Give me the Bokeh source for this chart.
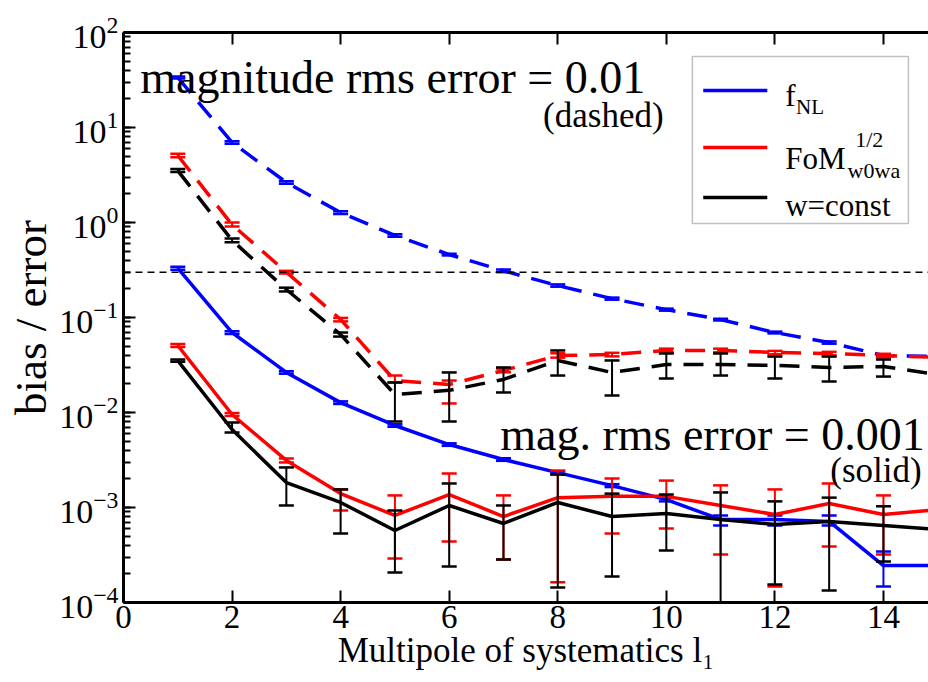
from bokeh.plotting import figure
from bokeh.models import (Range1d, LinearAxis, SingleIntervalTicker, Span, Label,
                          BoxAnnotation, CustomJSTickFormatter, ColumnDataSource)
from bokeh.embed import file_html
from bokeh.resources import INLINE

# ---------------- data ----------------
multipole = [1, 2, 3, 4, 5, 6, 7, 8, 9, 10, 11, 12, 13, 14, 15]

# magnitude rms error = 0.01 (dashed)
fnl_dashed = [33.6, 6.95, 2.64, 1.27, 0.73, 0.46, 0.31, 0.217, 0.158, 0.121, 0.095, 0.0695, 0.0546, 0.0398, 0.0388]
fnl_dashed_hi = [34.5, 7.15, 2.72, 1.31, 0.75, 0.47, 0.32, 0.223, 0.162, 0.124, 0.097, 0.071, 0.056, 0.041, 0.040]
fnl_dashed_lo = [32.7, 6.75, 2.56, 1.23, 0.71, 0.45, 0.30, 0.211, 0.154, 0.118, 0.093, 0.068, 0.053, 0.0386, 0.0376]

fom_dashed = [5.07, 0.95, 0.30, 0.0953, 0.0217, 0.0197, 0.0277, 0.0398, 0.0408, 0.045, 0.045, 0.0428, 0.0418, 0.0398, 0.038]
fom_dashed_hi = [5.3, 1.0, 0.31, 0.099, 0.0245, 0.0217, 0.0290, 0.0420, 0.0425, 0.047, 0.047, 0.0445, 0.0435, 0.0415, 0.0395]
fom_dashed_lo = [4.85, 0.91, 0.29, 0.091, 0.0207, 0.01245, 0.0265, 0.0378, 0.039, 0.043, 0.043, 0.041, 0.040, 0.038, 0.0365]

wconst_dashed = [3.52, 0.65, 0.197, 0.0662, 0.01545, 0.0171, 0.0223, 0.0353, 0.0264, 0.032, 0.032, 0.0313, 0.0298, 0.0305, 0.0251]
wconst_dashed_hi = [3.65, 0.68, 0.206, 0.0695, 0.0207, 0.0264, 0.0298, 0.045, 0.0353, 0.0418, 0.0418, 0.0388, 0.0388, 0.0361, 0.030]
wconst_dashed_lo = [3.40, 0.62, 0.188, 0.0630, 0.00804, 0.00804, 0.01625, 0.0245, 0.0151, 0.0228, 0.0245, 0.0228, 0.0212, 0.0239, 0.020]

# magnitude rms error = 0.001 (solid)
fnl_solid = [0.330, 0.0695, 0.0264, 0.0127, 0.0073, 0.0046, 0.0032, 0.00233, 0.0017, 0.00121, 0.000748, 0.000748, 0.000713, 0.000245, 0.000245]
fnl_solid_hi = [0.342, 0.0718, 0.0272, 0.0131, 0.00752, 0.00474, 0.0033, 0.0024, 0.00176, 0.00126, 0.000824, 0.000824, 0.000824, 0.000344, 0.00034]
fnl_solid_lo = [0.318, 0.0672, 0.0256, 0.0123, 0.00708, 0.00446, 0.0031, 0.00226, 0.00164, 0.00116, 0.000647, 0.000647, 0.000647, 0.000147, 0.00015]

fom_solid = [0.0507, 0.00953, 0.00313, 0.0014, 0.000824, 0.00137, 0.000803, 0.00127, 0.00131, 0.00131, 0.00105, 0.000844, 0.0011, 0.000844, 0.000953]
fom_solid_hi = [0.0525, 0.0099, 0.00328, 0.00155, 0.00134, 0.00228, 0.00134, 0.00245, 0.00202, 0.00192, 0.00171, 0.00155, 0.00179, 0.00134, 0.0015]
fom_solid_lo = [0.0490, 0.0092, 0.00298, 0.00093, 0.00029, 0.000439, 0.000284, 0.000163, 0.000532, 0.000601, 0.00032, 0.000147, 0.000388, 0.00032, 0.0004]

wconst_solid = [0.0352, 0.00662, 0.00183, 0.00113, 0.000573, 0.00105, 0.000679, 0.00113, 0.000803, 0.000865, 0.000748, 0.000662, 0.000713, 0.000647, 0.000586]
wconst_solid_hi = [0.0362, 0.00785, 0.00264, 0.00155, 0.00093, 0.00179, 0.00105, 0.00222, 0.0014, 0.00137, 0.00144, 0.00116, 0.00127, 0.00103, 0.001]
wconst_solid_lo = [0.0342, 0.00616, 0.00105, 0.000532, 0.000207, 0.000239, 0.000284, 0.000144, 0.000188, 0.000353, 0.00005, 0.000155, 0.000134, 0.00027, 0.0002]

threshold = 0.3

# ---------------- figure ----------------
FONT = "Liberation Serif"
BLUE, RED, BLACK = "#0000ff", "#ff0000", "#000000"

p = figure(width=928, height=682, x_range=Range1d(0, 14.83), y_range=Range1d(1e-4, 1e2),
           y_axis_type="log", output_backend="svg", toolbar_location=None,
           min_border_left=123, min_border_top=32, min_border_bottom=80, min_border_right=0)
p.grid.visible = False
p.outline_line_color = None
p.background_fill_color = "white"

for ax in (p.xaxis[0], p.yaxis[0]):
    ax.axis_line_width = 3
    ax.major_tick_line_width = 2
    ax.minor_tick_line_width = 2
    ax.major_tick_in = 12
    ax.major_tick_out = 0
    ax.minor_tick_in = 7
    ax.minor_tick_out = 0
    ax.major_label_text_font = FONT
    ax.major_label_text_color = "black"
    ax.axis_label_text_font = FONT
    ax.axis_label_text_font_style = "normal"
    ax.axis_label_text_color = "black"

p.xaxis.ticker = SingleIntervalTicker(interval=2, num_minor_ticks=0)
p.xaxis.minor_tick_line_color = None
p.xaxis.major_label_text_font_size = "33px"
p.xaxis.major_label_standoff = 3
p.xaxis.axis_label = "Multipole of systematics l\u2081"
p.xaxis.axis_label_text_font_size = "35px"
p.xaxis.axis_label_standoff = 0

p.yaxis.major_label_text_font_size = "34px"
p.yaxis.major_label_standoff = 5
p.yaxis.axis_label = "bias / error"
p.yaxis.axis_label_text_font_size = "45px"
p.yaxis.axis_label_standoff = 0

top = LinearAxis(ticker=SingleIntervalTicker(interval=2, num_minor_ticks=0),
                 formatter=CustomJSTickFormatter(code="return ''"),
                 axis_line_width=3, major_tick_line_width=2, major_tick_in=12, major_tick_out=0,
                 minor_tick_line_color=None, major_label_standoff=0)
p.add_layout(top, "above")

# reference threshold
p.add_layout(Span(location=threshold, dimension="width", line_color="black",
                  line_dash="7 5", line_width=1.5))

def series(y, hi, lo, color, dashed):
    src = ColumnDataSource(dict(x=multipole, y=y, hi=hi, lo=lo))
    p.segment(x0="x", y0="lo", x1="x", y1="hi", source=src, line_color=color, line_width=2)
    p.scatter(x="x", y="hi", source=src, marker="dash", size=15, line_color=color, line_width=2.5)
    p.scatter(x="x", y="lo", source=src, marker="dash", size=15, line_color=color, line_width=2.5)
    if dashed:
        p.line(x="x", y="y", source=src, line_color=color, line_width=3.5, line_dash="20 12")
    else:
        p.line(x="x", y="y", source=src, line_color=color, line_width=3.5)

series(fnl_dashed, fnl_dashed_hi, fnl_dashed_lo, BLUE, True)
series(fom_dashed, fom_dashed_hi, fom_dashed_lo, RED, True)
series(wconst_dashed, wconst_dashed_hi, wconst_dashed_lo, BLACK, True)
series(fnl_solid, fnl_solid_hi, fnl_solid_lo, BLUE, False)
series(fom_solid, fom_solid_hi, fom_solid_lo, RED, False)
series(wconst_solid, wconst_solid_hi, wconst_solid_lo, BLACK, False)

def label(x, y, text, size, **kw):
    p.add_layout(Label(x=x, y=y, text=text, text_font=FONT, text_font_size=size,
                       text_color="black", text_baseline="alphabetic", **kw))

label(0.31, 33.6, "magnitude rms error = 0.01", "46px")
label(7.73, 13.4, "(dashed)", "35px")
label(6.94, 0.00586, "mag. rms error = 0.001", "46px")
label(13.02, 0.00245, "(solid)", "35px")

# legend
p.add_layout(BoxAnnotation(left=10.48, right=14.46, bottom=0.976, top=55.9,
                           fill_color="white", fill_alpha=1.0,
                           line_color="#333333", line_width=1.5, level="annotation"))
leg_x = [10.68, 11.86]
for yy, c in ((24.5, BLUE), (6.15, RED), (1.83, BLACK)):
    p.line(x=leg_x, y=[yy, yy], line_color=c, line_width=3.5, level="overlay")
label(12.19, 21.7, "f", "31px", level="overlay")
label(12.39, 16.6, "NL", "21px", level="overlay")
label(12.19, 4.72, "FoM", "31px", level="overlay")
label(13.48, 7.48, "1/2", "22px", level="overlay")
label(13.34, 3.52, "w0wa", "22px", level="overlay")
label(12.19, 1.51, "w=const", "31px", level="overlay")

open("out.html", "w").write(file_html(p, INLINE))
